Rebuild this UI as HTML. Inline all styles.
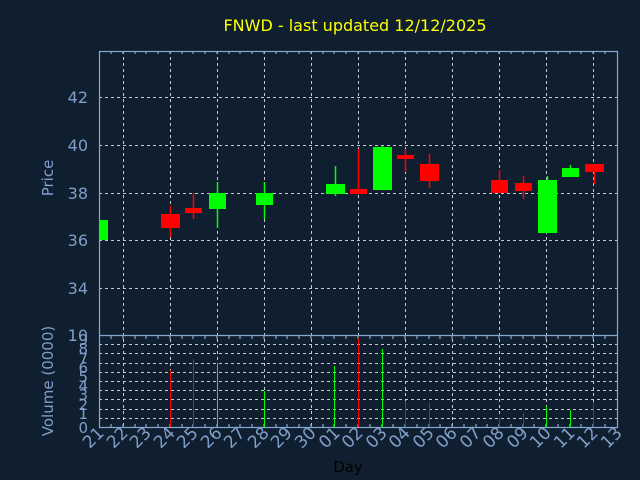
<!DOCTYPE html>
<html><head><meta charset="utf-8"><style>
html,body{margin:0;padding:0;background:#101f30;}
svg{display:block;font-family:"DejaVu Sans","Liberation Sans",sans-serif;}
</style></head><body>
<svg width="640" height="480" viewBox="0 0 640 480" xmlns="http://www.w3.org/2000/svg">
<rect width="640" height="480" fill="#101f30"/>
<text x="355" y="31" fill="#ffff00" font-size="16" text-anchor="middle">FNWD - last updated 12/12/2025</text>
<g stroke="#c8c8c8" stroke-width="1" stroke-dasharray="3,3" fill="none">
<path d="M99 97.5H617M99 145.5H617M99 193.5H617M99 240.5H617M99 288.5H617"/>
<path d="M99 344.5H617M99 353.5H617M99 363.5H617M99 372.5H617M99 381.5H617M99 390.5H617M99 399.5H617M99 409.5H617M99 418.5H617"/>
<path d="M123.5 51V427M170.5 51V427M217.5 51V427M264.5 51V427M311.5 51V427M358.5 51V427M405.5 51V427M452.5 51V427M499.5 51V427M546.5 51V427M593.5 51V427"/>
</g>
<g stroke="#88a8d0" stroke-width="1.2" fill="none">
<rect x="99.5" y="51.5" width="518" height="376"/>
<path d="M99 335.5H617"/>
<path id="tk" d="M111 51v3M123 51v3M135 51v3M146 51v3M158 51v3M170 51v3M182 51v3M193 51v3M205 51v3M217 51v3M229 51v3M240 51v3M252 51v3M264 51v3M276 51v3M287 51v3M299 51v3M311 51v3M323 51v3M334 51v3M346 51v3M358 51v3M370 51v3M382 51v3M393 51v3M405 51v3M417 51v3M429 51v3M440 51v3M452 51v3M464 51v3M476 51v3M487 51v3M499 51v3M511 51v3M523 51v3M534 51v3M546 51v3M558 51v3M570 51v3M581 51v3M593 51v3M605 51v3"/>
<use href="#tk" transform="translate(0,285)"/>
<use href="#tk" transform="translate(0,373)"/>
</g>
<g fill="#7f9fc8" font-size="16" text-anchor="end">
<text x="88" y="103">42</text><text x="88" y="151">40</text><text x="88" y="199">38</text><text x="88" y="246">36</text><text x="88" y="294">34</text>
<text x="88" y="341">10</text>
</g>
<g fill="#7f9fc8" font-size="15" text-anchor="end">
<text x="88" y="345">9</text><text x="88" y="354">8</text><text x="88" y="364">7</text><text x="88" y="373">6</text><text x="88" y="382">5</text><text x="88" y="391">4</text><text x="88" y="400">3</text><text x="88" y="410">2</text><text x="88" y="419">1</text><text x="88" y="433">0</text>
</g>
<text transform="translate(53,178) rotate(-90)" fill="#7f9fc8" font-size="15" text-anchor="middle">Price</text>
<text transform="translate(53,381) rotate(-90)" fill="#7f9fc8" font-size="15" text-anchor="middle">Volume (0000)</text>
<text x="348" y="472" fill="#000000" font-size="15" text-anchor="middle">Day</text>
<g fill="#7f9fc8" font-size="17" text-anchor="end">
<text transform="translate(105,434) rotate(-45)">21</text>
<text transform="translate(129,434) rotate(-45)">22</text>
<text transform="translate(152,434) rotate(-45)">23</text>
<text transform="translate(176,434) rotate(-45)">24</text>
<text transform="translate(199,434) rotate(-45)">25</text>
<text transform="translate(223,434) rotate(-45)">26</text>
<text transform="translate(246,434) rotate(-45)">27</text>
<text transform="translate(270,434) rotate(-45)">28</text>
<text transform="translate(293,434) rotate(-45)">29</text>
<text transform="translate(317,434) rotate(-45)">30</text>
<text transform="translate(341,434) rotate(-45)">01</text>
<text transform="translate(364,434) rotate(-45)">02</text>
<text transform="translate(388,434) rotate(-45)">03</text>
<text transform="translate(411,434) rotate(-45)">04</text>
<text transform="translate(435,434) rotate(-45)">05</text>
<text transform="translate(458,434) rotate(-45)">06</text>
<text transform="translate(482,434) rotate(-45)">07</text>
<text transform="translate(505,434) rotate(-45)">08</text>
<text transform="translate(529,434) rotate(-45)">09</text>
<text transform="translate(552,434) rotate(-45)">10</text>
<text transform="translate(576,434) rotate(-45)">11</text>
<text transform="translate(599,434) rotate(-45)">12</text>
<text transform="translate(623,434) rotate(-45)">13</text>
</g>
<g fill="#ff0000" stroke="#ff0000" stroke-width="1.5">
<line x1="170.5" y1="206" x2="170.5" y2="237"/><rect x="161" y="214" width="19" height="14" stroke="none"/>
<line x1="193.5" y1="193" x2="193.5" y2="219"/><rect x="185" y="208" width="17" height="5" stroke="none"/>
<line x1="358.5" y1="149" x2="358.5" y2="194"/><rect x="350" y="189" width="17" height="5" stroke="none"/>
<line x1="405.5" y1="149" x2="405.5" y2="172"/><rect x="397" y="155" width="17" height="4" stroke="none"/>
<line x1="429.5" y1="154" x2="429.5" y2="188"/><rect x="420" y="164" width="19" height="17" stroke="none"/>
<line x1="499.5" y1="170" x2="499.5" y2="193"/><rect x="491" y="180" width="17" height="13" stroke="none"/>
<line x1="523.5" y1="176" x2="523.5" y2="199"/><rect x="515" y="183" width="17" height="8" stroke="none"/>
<line x1="594.5" y1="164" x2="594.5" y2="184"/><rect x="585" y="164" width="19" height="8" stroke="none"/>
</g>
<g fill="#00ff00" stroke="#00ff00" stroke-width="1.5">
<rect x="99" y="220" width="9" height="20" stroke="none"/>
<line x1="217.5" y1="182" x2="217.5" y2="228"/><rect x="209" y="193" width="17" height="16" stroke="none"/>
<line x1="264.5" y1="182" x2="264.5" y2="219"/><rect x="256" y="193" width="17" height="12" stroke="none"/>
<line x1="335.5" y1="166" x2="335.5" y2="196"/><rect x="326" y="184" width="19" height="10" stroke="none"/>
<line x1="382.5" y1="146" x2="382.5" y2="190"/><rect x="373" y="147" width="19" height="43" stroke="none"/>
<line x1="547.5" y1="176" x2="547.5" y2="233"/><rect x="538" y="180" width="19" height="53" stroke="none"/>
<line x1="570.5" y1="165" x2="570.5" y2="177"/><rect x="562" y="168" width="17" height="9" stroke="none"/>
</g>
<g stroke-width="1">
<line x1="170.5" y1="370" x2="170.5" y2="427" stroke="#ff0000"/>
<line x1="193.5" y1="359" x2="193.5" y2="427" stroke="#ff0000"/>
<line x1="217.5" y1="363" x2="217.5" y2="427" stroke="#00ff00"/>
<line x1="264.5" y1="391" x2="264.5" y2="427" stroke="#00ff00"/>
<line x1="334.5" y1="366" x2="334.5" y2="427" stroke="#00ff00"/>
<line x1="358.5" y1="338" x2="358.5" y2="427" stroke="#ff0000"/>
<line x1="382.5" y1="349" x2="382.5" y2="427" stroke="#00ff00"/>
<line x1="405.5" y1="401" x2="405.5" y2="427" stroke="#ff0000"/>
<line x1="429.5" y1="403" x2="429.5" y2="427" stroke="#ff0000"/>
<line x1="499.5" y1="417" x2="499.5" y2="427" stroke="#ff0000"/>
<line x1="523.5" y1="413" x2="523.5" y2="427" stroke="#ff0000"/>
<line x1="546.5" y1="406" x2="546.5" y2="427" stroke="#00ff00"/>
<line x1="570.5" y1="410" x2="570.5" y2="427" stroke="#00ff00"/>
<line x1="593.5" y1="402" x2="593.5" y2="427" stroke="#ff0000"/>
</g>
</svg>
</body></html>
